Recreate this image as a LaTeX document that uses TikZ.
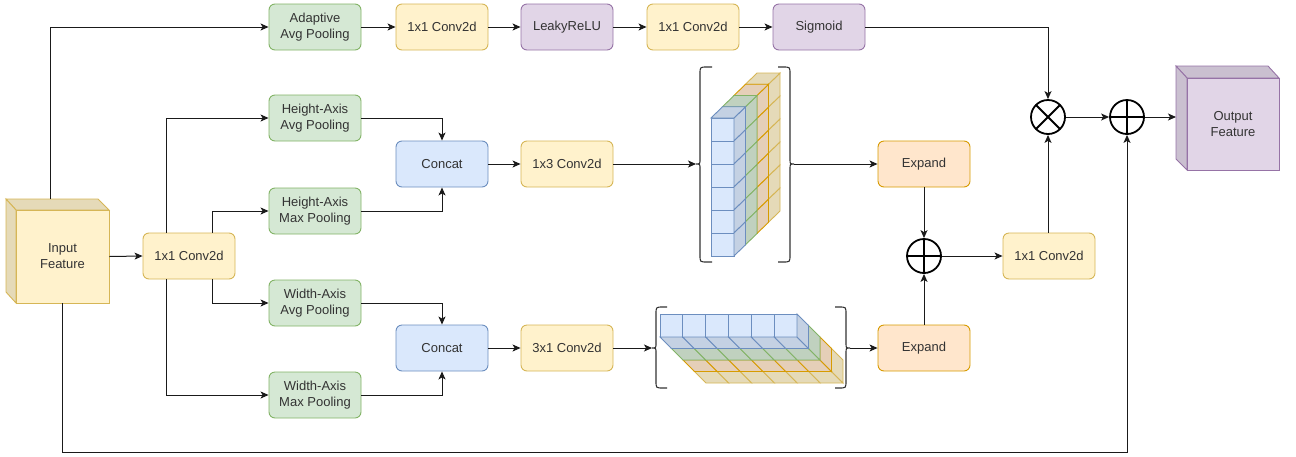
\documentclass[tikz,border=0pt]{standalone}
\usepackage{fontspec}
\setmainfont{Liberation Sans}
\usetikzlibrary{arrows.meta}
\definecolor{gF}{HTML}{D5E8D4}\definecolor{gS}{HTML}{82B366}
\definecolor{yF}{HTML}{FFF2CC}\definecolor{yS}{HTML}{D6B656}
\definecolor{pF}{HTML}{E1D5E7}\definecolor{pS}{HTML}{9673A6}
\definecolor{bF}{HTML}{DAE8FC}\definecolor{bS}{HTML}{6C8EBF}
\definecolor{oF}{HTML}{FFE6CC}\definecolor{oS}{HTML}{D79B00}
\definecolor{txt}{HTML}{333333}
\definecolor{ln}{HTML}{1A1A1A}
\begin{document}
\begin{tikzpicture}[x=1pt,y=-1pt,
  box/.style={draw,rounded corners=6pt,minimum width=92pt,minimum height=46pt,inner sep=2pt,align=center,text=txt,font=\fontsize{13}{16}\selectfont,line width=0.9pt},
  gbox/.style={box,fill=gF,draw=gS},
  ybox/.style={box,fill=yF,draw=yS},
  pbox/.style={box,fill=pF,draw=pS},
  bbox/.style={box,fill=bF,draw=bS},
  obox/.style={box,fill=oF,draw=oS},
  arr/.style={draw=ln,line width=1pt,-{Stealth[length=8pt,width=7pt,inset=2pt]}},
  brc/.style={draw=txt,line width=1.1pt},
  opl/.style={circle,draw=black,line width=1.8pt,minimum size=34pt,inner sep=0pt,
    path picture={\draw[line width=1.8pt] (path picture bounding box.north) -- (path picture bounding box.south) (path picture bounding box.west) -- (path picture bounding box.east);}},
  otm/.style={circle,draw=black,line width=1.8pt,minimum size=34pt,inner sep=0pt,
    path picture={\draw[line width=1.8pt] (path picture bounding box.north west) -- (path picture bounding box.south east) (path picture bounding box.south west) -- (path picture bounding box.north east);}},
  cubetxt/.style={minimum width=93pt,minimum height=93pt,inner sep=0pt,align=center,text=txt,font=\fontsize{13}{16}\selectfont}
]
\useasboundingbox (0,0) rectangle (1296,456);

% ---------- input cube ----------
\filldraw[fill=yF!90!black,draw=yS,line width=0.9pt] (6,199) -- (98,199) -- (109,210) -- (16,210) -- cycle;
\filldraw[fill=yF!90!black,draw=yS,line width=0.9pt] (6,199) -- (16,210) -- (16,303) -- (6,292) -- cycle;
\node[cubetxt,fill=yF,draw=yS,line width=0.9pt] (inp) at (62.5,256.5) {Input\\Feature};
\coordinate (inTop) at (50,199);

% ---------- output cube ----------
\filldraw[fill=pF!90!black,draw=pS,line width=0.9pt] (1176,66) -- (1268,66) -- (1279,78) -- (1187,78) -- cycle;
\filldraw[fill=pF!90!black,draw=pS,line width=0.9pt] (1176,66) -- (1187,78) -- (1187,170) -- (1176,159) -- cycle;
\node[cubetxt,minimum width=92pt,minimum height=92pt,fill=pF,draw=pS,line width=0.9pt] (out) at (1233,124) {Output\\Feature};
\coordinate (outL) at (1176,117);

% ---------- boxes ----------
\node[gbox] (ada) at (315,27) {Adaptive\\Avg Pooling};
\node[ybox] (c1) at (442,27) {1x1 Conv2d};
\node[pbox] (lre) at (567,27) {LeakyReLU};
\node[ybox] (c2) at (693,27) {1x1 Conv2d};
\node[pbox] (sig) at (819,27) {Sigmoid};

\node[ybox] (conv1) at (189,256) {1x1 Conv2d};
\node[gbox] (hap) at (315,118) {Height-Axis\\Avg Pooling};
\node[gbox] (hmp) at (315,211) {Height-Axis\\Max Pooling};
\node[gbox] (wap) at (315,303) {Width-Axis\\Avg Pooling};
\node[gbox] (wmp) at (315,395) {Width-Axis\\Max Pooling};
\node[bbox] (cat1) at (442,164) {Concat};
\node[bbox] (cat2) at (442,348) {Concat};
\node[ybox] (c13) at (567,164) {1x3 Conv2d};
\node[ybox] (c31) at (567,348) {3x1 Conv2d};
\node[obox] (exp1) at (924,164) {Expand};
\node[obox] (exp2) at (924,348) {Expand};
\node[ybox] (convR) at (1049,256) {1x1 Conv2d};

\node[opl] (opm) at (924,256) {};
\node[otm] (otm) at (1048,117) {};
\node[opl] (opr) at (1127,117) {};

% ---------- vertical voxel column (1x3) ----------
\foreach \d/\fc/\sc in {3/yF/yS,2/oF/oS,1/gF/gS,0/bF/bS} {
  \pgfmathsetmacro\ox{711+\d*11.5}
  \pgfmathsetmacro\oy{118-\d*11.25}
  \foreach \i in {0,...,5} {
    \pgfmathsetmacro\ya{\oy+\i*23}
    \filldraw[fill=\fc,draw=\sc,line width=0.9pt] (\ox,\ya) rectangle ++(23,23);
    \filldraw[fill=\fc!90!black,draw=\sc,line width=0.9pt] (\ox+23,\ya) -- ++(11.5,-11.25) -- ++(0,23) -- ++(-11.5,11.25) -- cycle;
  }
  \filldraw[fill=\fc!90!black,draw=\sc,line width=0.9pt] (\ox,\oy) -- ++(11.5,-11.25) -- ++(23,0) -- ++(-11.5,11.25) -- cycle;
}

% ---------- horizontal voxel slab (3x1) ----------
\foreach \d/\fc/\sc in {3/yF/yS,2/oF/oS,1/gF/gS,0/bF/bS} {
  \pgfmathsetmacro\ox{660+\d*11.5}
  \pgfmathsetmacro\oy{314+\d*11.5}
  \foreach \j in {0,...,5} {
    \pgfmathsetmacro\xa{\ox+\j*22.83}
    \filldraw[fill=\fc,draw=\sc,line width=0.9pt] (\xa,\oy) rectangle ++(22.83,23);
    \filldraw[fill=\fc!90!black,draw=\sc,line width=0.9pt] (\xa,\oy+23) -- ++(22.83,0) -- ++(11.5,11.5) -- ++(-22.83,0) -- cycle;
  }
  \filldraw[fill=\fc!90!black,draw=\sc,line width=0.9pt] (\ox+137,\oy) -- ++(11.5,11.5) -- ++(0,23) -- ++(-11.5,-11.5) -- cycle;
}

% ---------- braces ----------
\coordinate (b1L) at (696,164);
\coordinate (b1R) at (794,164);
\coordinate (b2L) at (652,348);
\coordinate (b2R) at (850,348);
\draw[brc] (712,67) -- (707,67) .. controls (700,67) .. (700,74) -- (700,159) .. controls (700,164) .. (b1L) .. controls (700,164) .. (700,169) -- (700,255) .. controls (700,262) .. (707,262) -- (712,262);
\draw[brc] (778,67) -- (783,67) .. controls (790,67) .. (790,74) -- (790,159) .. controls (790,164) .. (b1R) .. controls (790,164) .. (790,169) -- (790,255) .. controls (790,262) .. (783,262) -- (778,262);
\draw[brc] (667,307) -- (663,307) .. controls (656,307) .. (656,314) -- (656,343) .. controls (656,348) .. (b2L) .. controls (656,348) .. (656,353) -- (656,381) .. controls (656,388) .. (663,388) -- (667,388);
\draw[brc] (835,307) -- (839,307) .. controls (846,307) .. (846,314) -- (846,343) .. controls (846,348) .. (b2R) .. controls (846,348) .. (846,353) -- (846,381) .. controls (846,388) .. (839,388) -- (835,388);

% ---------- connectors ----------
\draw[arr] (inTop) -- (50,27) -- (ada.west);
\draw[arr] (inp.south) -- (62.5,452) -- (1127,452) -- (opr.south);
\draw[arr] (inp.east) -- (conv1.west);

\draw[arr] (ada) -- (c1);
\draw[arr] (c1) -- (lre);
\draw[arr] (lre) -- (c2);
\draw[arr] (c2) -- (sig);
\draw[arr] (sig.east) -- (1048,27) -- (otm.north);

\draw[arr] (conv1.north -| 166,0) -- (166,118) -- (hap.west);
\draw[arr] (conv1.south -| 166,0) -- (166,395) -- (wmp.west);
\draw[arr] (conv1.north -| 212,0) -- (212,211) -- (hmp.west);
\draw[arr] (conv1.south -| 212,0) -- (212,303) -- (wap.west);

\draw[arr] (hap.east) -- (442,118) -- (cat1.north);
\draw[arr] (hmp.east) -- (442,211) -- (cat1.south);
\draw[arr] (wap.east) -- (442,303) -- (cat2.north);
\draw[arr] (wmp.east) -- (442,395) -- (cat2.south);

\draw[arr] (cat1) -- (c13);
\draw[arr] (cat2) -- (c31);
\draw[arr] (c13) -- (b1L);
\draw[arr] (c31) -- (b2L);
\draw[arr] (b1R) -- (exp1);
\draw[arr] (b2R) -- (exp2);

\draw[arr] (exp1) -- (opm);
\draw[arr] (exp2) -- (opm);
\draw[arr] (opm) -- (convR);
\draw[arr] (convR.north -| otm.south) -- (otm.south);
\draw[arr] (otm) -- (opr);
\draw[arr] (opr) -- (outL);
\end{tikzpicture}
\end{document}
